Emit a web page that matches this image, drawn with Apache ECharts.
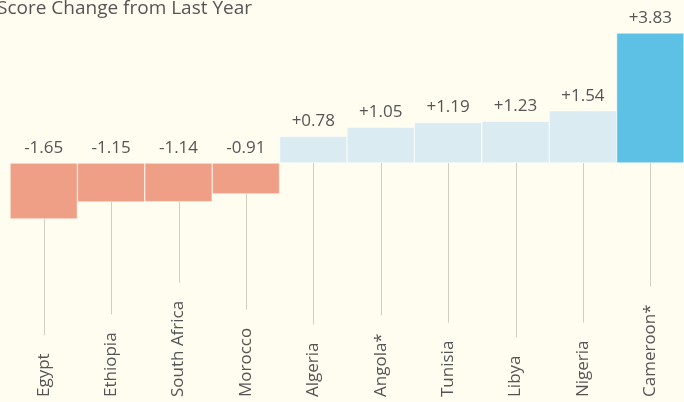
<!DOCTYPE html>
<html>
<head>
<meta charset="utf-8">
<script src="https://cdn.jsdelivr.net/npm/echarts@6/dist/echarts.min.js"></script>
<style>
  html, body { margin: 0; padding: 0; background: #fffdf0; }
  #chart { width: 684px; height: 402px; }
</style>
</head>
<body>
<div id="chart"></div>
<script>
const countries = ['Egypt', 'Ethiopia', 'South Africa', 'Morocco', 'Algeria', 'Angola*', 'Tunisia', 'Libya', 'Nigeria', 'Cameroon*'];
const changes = [-1.65, -1.15, -1.14, -0.91, 0.78, 1.05, 1.19, 1.23, 1.54, 3.83];
const highlight = 'Cameroon*';

const fontFamily = 'Open Sans';
const labelFont = '17px ' + fontFamily;
const yMin = -6.894, yMax = 3.83;

const measure = document.createElement('canvas').getContext('2d');
function textWidth (s) {
  measure.font = labelFont;
  return measure.measureText(s).width;
}
function fmt (v) {
  return (v > 0 ? '+' : '') + v.toFixed(2);
}

const chart = echarts.init(document.getElementById('chart'));

const option = {
  backgroundColor: '#fffdf0',
  animation: false,
  title: {
    text: 'Score Change from Last Year',
    left: -3,
    top: -1,
    padding: 0,
    textStyle: { fontFamily, fontSize: 19, fontWeight: 'normal', color: '#555' }
  },
  grid: { left: 10, right: 0, top: 33, bottom: 5 },
  xAxis: {
    type: 'category',
    data: countries,
    axisLine: { show: false },
    axisTick: { show: false },
    axisLabel: {
      rotate: 90,
      align: 'left',
      verticalAlign: 'middle',
      margin: 0,
      interval: 0,
      fontFamily,
      fontSize: 17,
      color: '#555'
    }
  },
  yAxis: {
    type: 'value',
    min: yMin,
    max: yMax,
    show: false,
    splitLine: { show: false }
  },
  series: [
    {
      type: 'bar',
      barCategoryGap: '0%',
      data: changes.map((v, i) => ({
        value: v,
        itemStyle: {
          color: countries[i] === highlight ? '#5dc1e6' : (v < 0 ? '#ef9f86' : '#daecf1')
        }
      })),
      itemStyle: { borderColor: '#ffffff', borderWidth: 0.5 }
    },
    {
      type: 'custom',
      data: changes.map((v, i) => [i, v]),
      encode: { x: 0, y: 1 },
      z: 3,
      renderItem (params, api) {
        const i = api.value(0), v = api.value(1);
        const zero = api.coord([i, 0]);
        const end = api.coord([i, v]);
        const base = api.coord([i, yMin]);
        const x = Math.round(zero[0]) + 0.5;
        const topY = Math.min(zero[1], end[1]);
        const bottomY = Math.max(zero[1], end[1]);
        const lineEnd = base[1] - textWidth(countries[i]) - 18;
        return {
          type: 'group',
          children: [
            {
              type: 'line',
              shape: { x1: x, y1: bottomY, x2: x, y2: lineEnd },
              style: { stroke: '#d2cec1', lineWidth: 1 }
            },
            {
              type: 'text',
              style: {
                text: fmt(v),
                x: zero[0],
                y: topY - 15,
                align: 'center',
                verticalAlign: 'middle',
                fill: '#555',
                font: '17px ' + fontFamily
              }
            }
          ]
        };
      }
    }
  ]
};

chart.setOption(option);
</script>
</body>
</html>
